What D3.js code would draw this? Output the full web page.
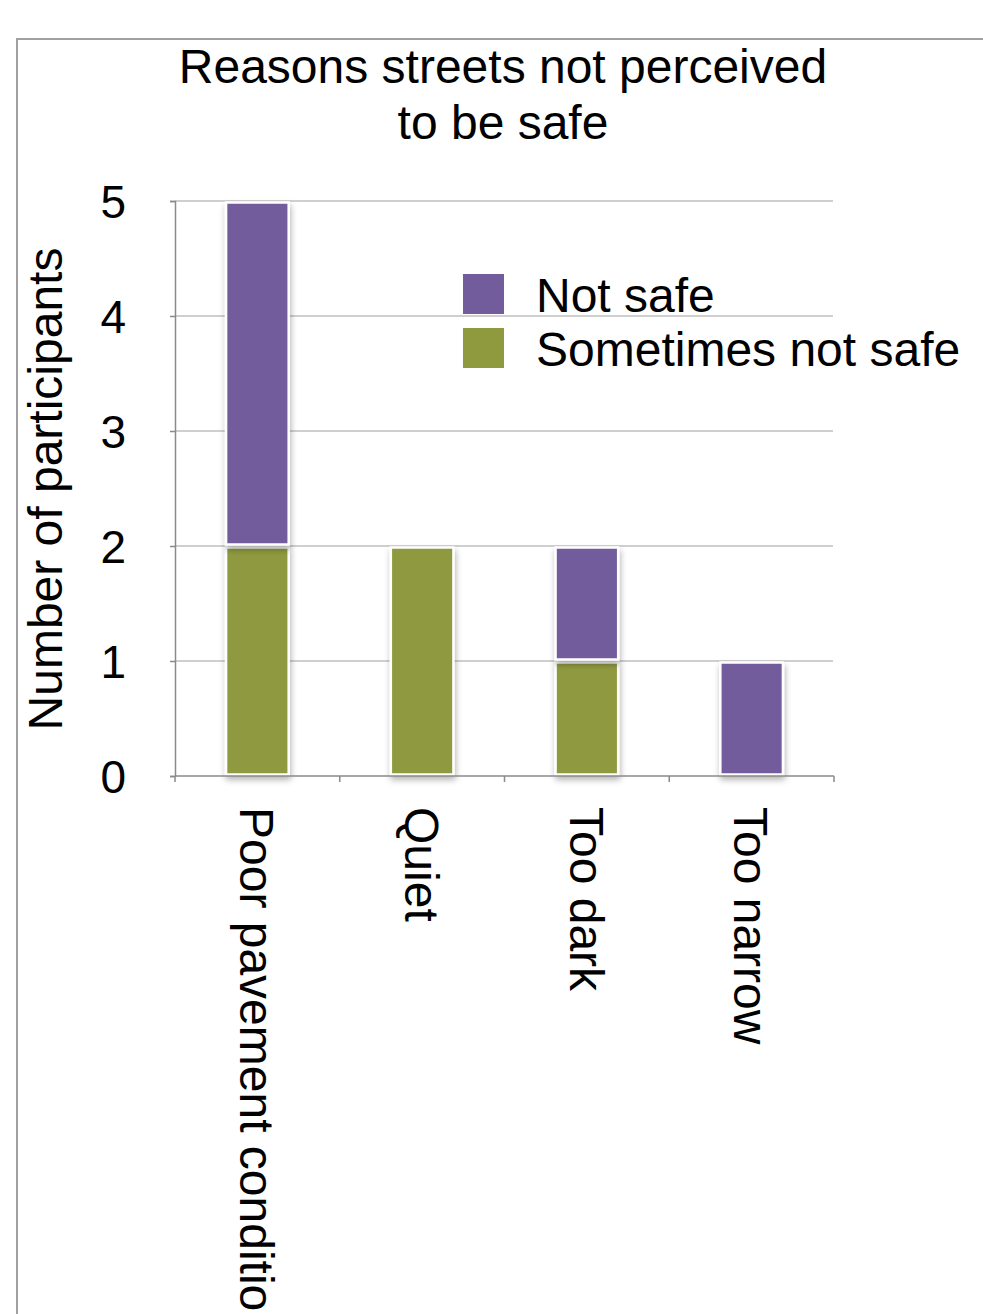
<!DOCTYPE html>
<html>
<head>
<meta charset="utf-8">
<script src="https://cdn.jsdelivr.net/npm/d3@7"></script>
<style>
  body { margin: 0; background: #fff; }
  svg { display: block; font-family: "Liberation Sans", Arial, sans-serif; }
</style>
</head>
<body>
<div id="chart"></div>
<script>
// data
var categories = ["Poor pavement condition", "Quiet", "Too dark", "Too narrow"];
var sometimesNotSafe = [2, 2, 1, 0];
var notSafe = [3, 0, 1, 1];
var seriesNames = ["Not safe", "Sometimes not safe"];
var yTicks = [0, 1, 2, 3, 4, 5];
var titleLines = ["Reasons streets not perceived", "to be safe"];

var width = 983, height = 1314;
var colors = { "Not safe": "#735c9b", "Sometimes not safe": "#8f9a3f" };

var svg = d3.select("#chart")
    .append("svg")
    .attr("width", width)
    .attr("height", height);

// drop shadow for bars
var defs = svg.append("defs");
defs.append("filter")
    .attr("id", "shadow")
    .attr("x", "-30%").attr("y", "-10%")
    .attr("width", "160%").attr("height", "130%")
    .append("feDropShadow")
    .attr("dx", 1).attr("dy", 4)
    .attr("stdDeviation", 3)
    .attr("flood-color", "#000")
    .attr("flood-opacity", 0.3);

// frame
svg.append("path")
    .attr("d", "M17," + height + "V39H" + width)
    .attr("fill", "none")
    .attr("stroke", "#a0a0a0")
    .attr("stroke-width", 2);

// title
svg.append("g").selectAll("text")
    .data(titleLines)
    .join("text")
    .attr("x", 503)
    .attr("y", (d, i) => 83 + i * 56)
    .attr("text-anchor", "middle")
    .attr("font-size", 48)
    .attr("fill", "#000")
    .text(d => d);

// scales
var x = d3.scaleBand()
    .domain(categories)
    .range([175, 834])
    .paddingInner(0.62)
    .paddingOuter(0.31);

var y = d3.scaleLinear()
    .domain([0, 5])
    .range([776, 201]);

// gridlines
svg.append("g").selectAll("line")
    .data(yTicks.filter(d => d > 0))
    .join("line")
    .attr("x1", 175).attr("x2", 833)
    .attr("y1", d => y(d)).attr("y2", d => y(d))
    .attr("stroke", "#a0a0a0")
    .attr("stroke-width", 1.2);

// y axis
var yAxis = svg.append("g")
    .attr("transform", "translate(175,0)")
    .call(d3.axisLeft(y).tickValues(yTicks).tickSize(5).tickFormat(d3.format("d")));
yAxis.select(".domain").attr("stroke", "#8a8a8a").attr("stroke-width", 1.5);
yAxis.selectAll(".tick line").attr("stroke", "#8a8a8a").attr("stroke-width", 1.5);
yAxis.selectAll(".tick text")
    .attr("x", -49)
    .attr("dy", "0.36em")
    .attr("font-size", 46)
    .attr("font-family", "Liberation Sans, Arial, sans-serif")
    .attr("fill", "#000");

// y axis title
svg.append("text")
    .attr("transform", "translate(62,489) rotate(-90)")
    .attr("text-anchor", "middle")
    .attr("font-size", 48)
    .attr("fill", "#000")
    .text("Number of participants");

// stacked bars
var rows = categories.map((c, i) => ({
    category: c,
    "Sometimes not safe": sometimesNotSafe[i],
    "Not safe": notSafe[i]
}));
var stack = d3.stack().keys(["Sometimes not safe", "Not safe"]);
var stacked = stack(rows);

svg.append("g").selectAll("g")
    .data(stacked)
    .join("g")
    .attr("fill", d => colors[d.key])
    .selectAll("rect")
    .data(d => d.filter(s => s[1] - s[0] > 0))
    .join("rect")
    .attr("x", d => x(d.data.category))
    .attr("y", d => y(d[1]) + 1.5)
    .attr("width", x.bandwidth())
    .attr("height", d => y(d[0]) - y(d[1]) - 3)
    .attr("stroke", "#fff")
    .attr("stroke-width", 2.5)
    .attr("filter", "url(#shadow)");

// x axis
var xAxis = svg.append("g")
    .attr("transform", "translate(0,776)");
xAxis.append("line")
    .attr("x1", 175).attr("x2", 834)
    .attr("stroke", "#8a8a8a").attr("stroke-width", 1.5);
var step = x.step();
xAxis.selectAll("line.tick")
    .data(d3.range(categories.length + 1))
    .join("line")
    .attr("class", "tick")
    .attr("x1", d => x(categories[0]) - x.paddingOuter() * step + d * step)
    .attr("x2", d => x(categories[0]) - x.paddingOuter() * step + d * step)
    .attr("y1", 0).attr("y2", 6)
    .attr("stroke", "#8a8a8a").attr("stroke-width", 1.5);
xAxis.selectAll("text")
    .data(categories)
    .join("text")
    .attr("transform", d => "translate(" + (x(d) + x.bandwidth() / 2) + ",31) rotate(90)")
    .attr("dy", "0.36em")
    .attr("text-anchor", "start")
    .attr("font-size", 48)
    .attr("fill", "#000")
    .text(d => d);

// legend
var legend = svg.append("g").selectAll("g")
    .data(seriesNames)
    .join("g")
    .attr("transform", (d, i) => "translate(463," + (274 + i * 54) + ")");
legend.append("rect")
    .attr("width", 41).attr("height", 40)
    .attr("fill", d => colors[d]);
legend.append("text")
    .attr("x", 73)
    .attr("y", 38)
    .attr("font-size", 48)
    .attr("fill", "#000")
    .text(d => d);
</script>
</body>
</html>
